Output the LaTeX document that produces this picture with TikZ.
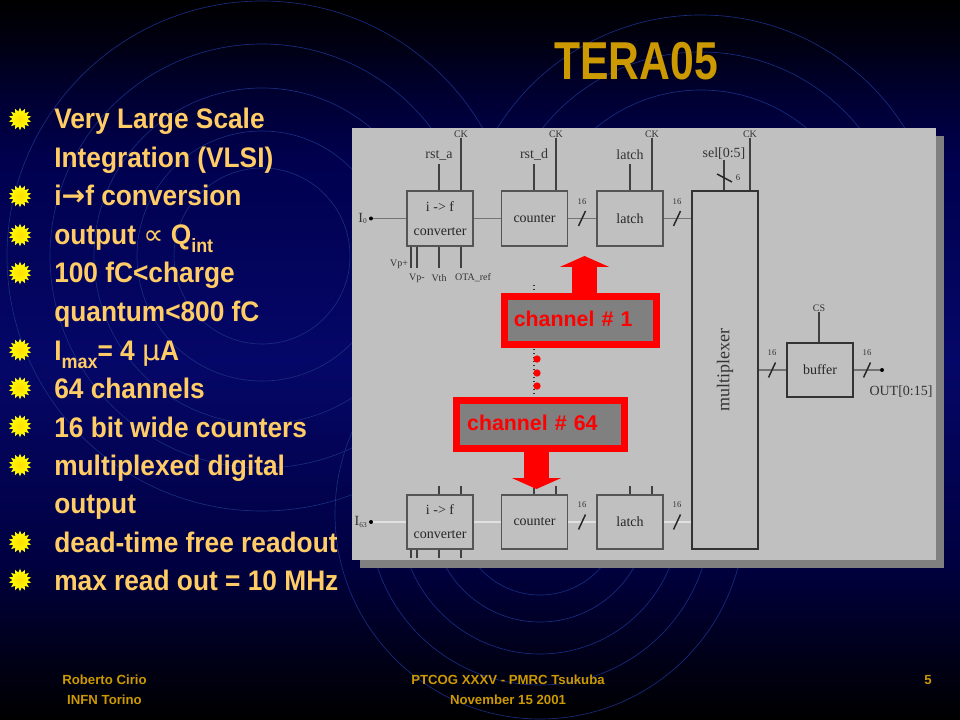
\documentclass[tikz,border=0pt]{standalone}
\usepackage{fontspec}
\setmainfont{Liberation Sans}
\newfontfamily\bodyfont[FakeStretch=.93]{Liberation Sans}
\newfontfamily\schemafont{Liberation Serif}
\newfontfamily\symfont{DejaVu Sans}
\usetikzlibrary{shapes, arrows.meta, positioning, calc}

\definecolor{slidegold}{RGB}{204,153,0}
\definecolor{bodyorange}{RGB}{255,204,102}
\definecolor{ringblue}{RGB}{24,44,125}
\definecolor{panelgray}{RGB}{192,192,192}
\definecolor{boxline}{RGB}{85,85,85}
\definecolor{navya}{RGB}{0,0,18}
\definecolor{navyb}{RGB}{0,0,48}
\definecolor{navyc}{RGB}{0,0,78}
\definecolor{navymid}{RGB}{5,7,104}
\definecolor{navyd}{RGB}{0,0,65}
\definecolor{navye}{RGB}{0,0,28}

\pgfdeclareverticalshading{slidebg}{100bp}{
	color(0bp)=(black); color(25bp)=(black); color(30bp)=(navye); color(36bp)=(navyd);
	color(50bp)=(navymid); color(64bp)=(navyc); color(68.6bp)=(navyb); color(72bp)=(navya); color(75bp)=(black); color(100bp)=(black)}

\newcommand{\lowtxt}[1]{\raisebox{-.3em}{\fontsize{14.5pt}{14.5pt}\selectfont #1}}
\newcommand{\pinname}[1]{I\raisebox{-1pt}{\fontsize{5.5pt}{6pt}\selectfont #1}}
\newcommand{\busmark}[3]{
	\draw[slashline] (#2-3.5,#3+7.5) -- (#2+3.5,#3-7.5);
	\node[tinylabel] (#1) at (#2,#3-17) {16};
}

\begin{document}
\begin{tikzpicture}[x=.75pt,y=-.75pt,
	block/.style={draw=boxline,line width=1.4pt,fill=panelgray,minimum width=49.5pt,minimum height=41pt,inner sep=0pt,font=\schemafont\fontsize{10.5pt}{13pt}\selectfont,text=black!85},
	wire/.style={draw=black!55,line width=1.2pt},
	palewire/.style={draw=white!88!black,line width=.8pt},
	stub/.style={draw=black!75,line width=1.1pt},
	slashline/.style={draw=black!85,line width=1.1pt},
	tinylabel/.style={font=\schemafont\fontsize{6.5pt}{7pt}\selectfont,inner sep=0pt,text=black!80},
	smalllabel/.style={font=\schemafont\fontsize{7.5pt}{8pt}\selectfont,inner sep=0pt,text=black!80},
	siglabel/.style={font=\schemafont\fontsize{10.5pt}{11pt}\selectfont,inner sep=0pt,text=black!80},
	pindot/.style={circle,fill=black,inner sep=0pt,minimum size=3pt},
	channelbox/.style={draw=red,line width=5.25pt,fill=black!50!white,anchor=north west,outer sep=0pt,inner ysep=0pt,text=red,font=\bfseries\fontsize{16pt}{17pt}\selectfont,text height=11.5pt,text depth=2pt,align=left},
	bigarrow/.style={draw=red,fill=red,line width=18.75pt,-{Triangle[width=36.75pt,length=8.25pt]}},
	bullet/.style={star,star points=14,star point ratio=1.5,minimum size=17pt,inner sep=0pt,draw=none,inner color=yellow!75!orange,outer color=yellow},
	bodyline/.style={anchor=base west,inner sep=0pt,text=bodyorange,font=\bodyfont\bfseries\fontsize{21.2pt}{22pt}\selectfont},
	footline/.style={anchor=base,inner sep=0pt,text=slidegold,font=\bfseries\fontsize{9.9pt}{10pt}\selectfont}]

	\useasboundingbox (0,0) rectangle (960,720);
	\shade[shading=slidebg] (0,0) rectangle (960,720);

	\begin{scope}
		\clip (0,0) rectangle (960,720);
		\foreach \r in {255,212,168,125,88}
			\draw[ringblue,line width=.5pt] (262,256) circle [radius=\r];
		\foreach \r in {240,203,165}
			\draw[ringblue,line width=.5pt] (701,255) circle [radius=\r];
		\foreach \r in {205,171,140,108,81}
			\draw[ringblue,line width=.5pt] (540,514) circle [radius=\r];
	\end{scope}

	\fill[black!50!white] (360,136) rectangle (944,568);
	\fill[panelgray] (352,128) rectangle (936,560);

	\node[block,align=center] (conv) at (440,218.5) {i -> f\\[5pt]converter};
	\node[block] (cnt) at (534.5,218.5) {counter};
	\node[block] (lat) at (630,218.5) {latch};
	\node[block,align=center] (convb) at (440,522) {i -> f\\[5pt]converter};
	\node[block] (cntb) at (534.5,522) {counter};
	\node[block] (latb) at (630,522) {latch};
	\node[block,draw=black!80,minimum width=49.5pt,minimum height=268.5pt] (mux) at (725,370) {};
	\node[siglabel,font=\schemafont\fontsize{13.5pt}{14pt}\selectfont,rotate=90] (muxname) at (725,370) {multiplexer};
	\node[block,draw=black!80] (buf) at (820,370) {buffer};

	\node[pindot] (ina) at (371,218.5) {};
	\node[pindot] (inb) at (371,522) {};
	\node[pindot] (outp) at (882,370) {};
	\node[siglabel,anchor=east] (ialab) at (367,218.5) {\pinname{0}};
	\node[siglabel,anchor=east] (iblab) at (367,522) {\pinname{63}};
	\node[siglabel] (outlab) at (901,392) {OUT[0:15]};

	\draw[wire] (ina) -- (conv);
	\draw[wire] (conv) -- (cnt);
	\draw[wire] (cnt) -- (lat);
	\draw[wire] (lat.east) -- (lat.east -| mux.west);
	\draw[palewire] (inb) -- (convb);
	\draw[palewire] (convb) -- (cntb);
	\draw[palewire] (cntb) -- (latb);
	\draw[palewire] (latb.east) -- (latb.east -| mux.west);
	\draw[wire] (mux.east |- buf.west) -- (buf.west);
	\draw[wire] (buf.east) -- (outp);

	\busmark{busa}{582}{218.5}
	\busmark{busb}{677}{218.5}
	\busmark{busc}{582}{522}
	\busmark{busd}{677}{522}
	\busmark{buse}{772}{370}
	\busmark{busf}{867}{370}

	\foreach \name/\x/\txt in {rsta/439/rst\_a,rstd/534/rst\_d,ltc/630/latch}
		\node[siglabel] (\name) at (\x,155) {\txt};
	\foreach \name/\x/\n in {rsta/439/conv,rstd/534/cnt,ltc/630/lat}
		\draw[stub] (\x,164) coordinate (\name top) -- (\name top |- \n.north);
	\foreach \name/\x/\n in {cka/461/conv,ckb/556/cnt,ckc/652/lat,ckd/750/mux}{
		\node[smalllabel] (\name) at (\x,134) {CK};
		\draw[stub] (\name.south) -- (\name.south |- \n.north);
	}
	\node[siglabel] (sel) at (724,154) {sel[0:5]};
	\draw[stub] (sel.south) -- (sel.south |- mux.north);
	\draw[slashline] (717,174) -- (732,182);
	\node[tinylabel] (selbits) at (738,178) {6};
	\node[smalllabel] (cs) at (819,308) {CS};
	\draw[stub] (cs.south) -- (cs.south |- buf.north);

	\foreach \name/\x/\y/\txt in {vpp/399/264/Vp+,vpm/417/278/Vp-,vth/439/278/Vth,ota/473/278/OTA\_ref}
		\node[smalllabel] (\name) at (\x,\y) {\txt};
	\foreach \name/\x in {vpp/411,vpm/417,vth/439,ota/461}
		\draw[stub] (\x,268) coordinate (\name end) -- (\name end |- conv.south);
	\foreach \name/\x in {aa/411,ab/417,ac/439,ad/461}
		\draw[stub] (\x,558) coordinate (\name end) -- (\name end |- convb.south);
	\foreach \name/\x/\n in {ba/439/convb,bb/461/convb,bc/534/cntb,bd/556/cntb,be/630/latb,bf/652/latb}
		\draw[stub] (\x,486) coordinate (\name end) -- (\name end |- \n.north);

	\coordinate (dotstop) at (534,285);
	\coordinate (dotsbot) at (534,396);
	\draw[black!80,dotted,line width=1pt] (dotstop) -- (dotsbot);
	\foreach \name/\y in {rda/359,rdb/373,rdc/386}
		\node[circle,fill=red,inner sep=0pt,minimum size=5.5pt] (\name) at (537,\y) {};

	\node[channelbox,inner xsep=7pt,minimum width=114pt,minimum height=36pt,text width=100pt] (chone) at (504.5,296.5) {channel \# 1};
	\node[channelbox,inner xsep=7.9pt,minimum width=126pt,minimum height=36pt,text width=110pt] (chlast) at (456.5,400.5) {channel \# 64};
	\coordinate (uptip) at (584.5,256);
	\coordinate (downtip) at (536.5,489);
	\draw[bigarrow] (uptip |- chone.north) -- (uptip);
	\draw[bigarrow] (downtip |- chlast.south) -- (downtip);

	\node[anchor=base,inner sep=0pt,text=slidegold,font=\bfseries\fontsize{40pt}{40pt}\selectfont] (title) at (636,80) {\scalebox{.8}[1]{TERA05}};

	\foreach \i/\y in {1/119,2/196,3/235,4/273,5/350,6/388,7/426,8/465,9/542,10/580}
		\node[bullet] (bul\i) at (20,\y) {};

	\node[bodyline] (la) at (54,129) {Very Large Scale};
	\node[bodyline] (lb) at (54,167.5) {Integration (VLSI)};
	\node[bodyline] (lc) at (54,206) {i{\symfont→}f conversion};
	\node[bodyline] (ld) at (54,244.5) {output {\symfont\mdseries ∝} Q\lowtxt{int}};
	\node[bodyline] (le) at (54,283) {100 fC<charge};
	\node[bodyline] (lf) at (54,321.5) {quantum<800 fC};
	\node[bodyline] (lg) at (54,360) {I\lowtxt{max}= 4 {\symfont\mdseries μ}A};
	\node[bodyline] (lh) at (54,398) {64 channels};
	\node[bodyline] (li) at (54,437) {16 bit wide counters};
	\node[bodyline] (lj) at (54,475) {multiplexed digital};
	\node[bodyline] (lk) at (54,513.5) {output};
	\node[bodyline] (ll) at (54,552) {dead-time free readout};
	\node[bodyline] (lm) at (54,590) {max read out = 10 MHz};

	\node[footline] (fa) at (104.5,684) {Roberto Cirio};
	\node[footline] (fb) at (104.5,704) {INFN Torino};
	\node[footline] (fc) at (508,684) {PTCOG XXXV - PMRC Tsukuba};
	\node[footline] (fd) at (508,704) {November 15 2001};
	\node[footline] (fe) at (928,684) {5};
\end{tikzpicture}
\end{document}
